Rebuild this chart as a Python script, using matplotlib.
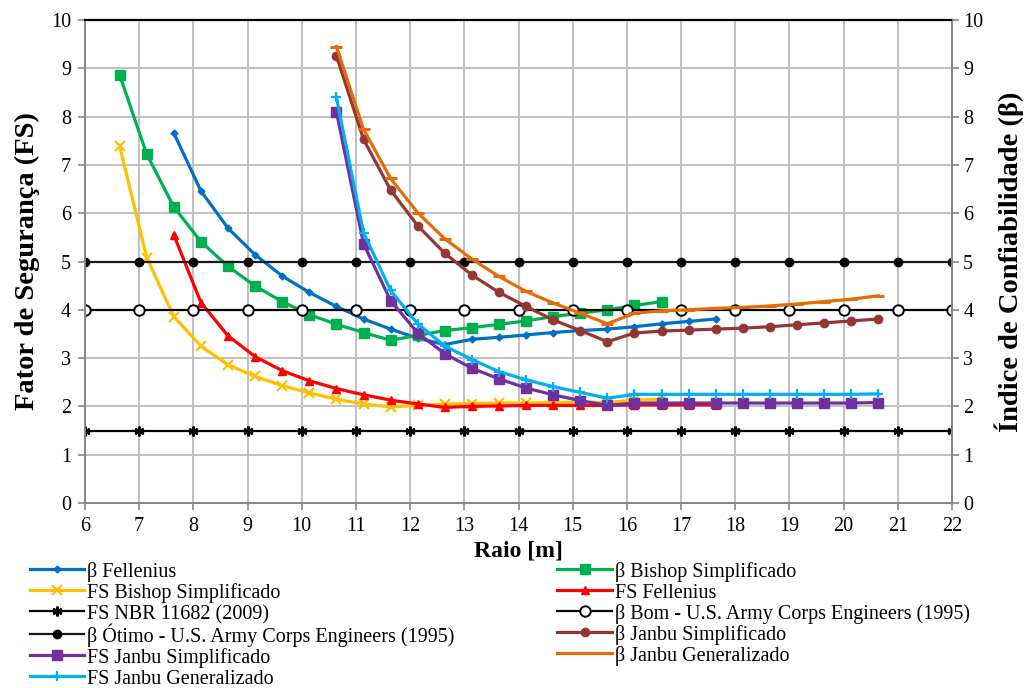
import numpy as np
import matplotlib
matplotlib.use("Agg")
import matplotlib.pyplot as plt

plt.rcParams['font.family'] = ['Liberation Serif', 'DejaVu Serif']
plt.rcParams['mathtext.fontset'] = 'stix'

# Radius of the trial slip circles [m]
raio = 6.64 + 0.5 * np.arange(29)   # 6.64 ... 20.64

# beta / FS series (first point index into raio, values)
beta_fellenius = [7.66, 6.46, 5.69, 5.14, 4.70, 4.36, 4.07, 3.81, 3.60, 3.41, 3.28,
                  3.39, 3.43, 3.48, 3.53, 3.57, 3.60, 3.65, 3.71, 3.76, 3.81]
beta_bishop = [8.86, 7.22, 6.13, 5.41, 4.90, 4.49, 4.17, 3.90, 3.70, 3.53, 3.37,
               3.47, 3.57, 3.63, 3.70, 3.77, 3.86, 3.93, 4.00, 4.09, 4.17]
fs_bishop = [7.39, 5.08, 3.86, 3.25, 2.86, 2.62, 2.43, 2.28, 2.15, 2.05, 1.99,
             2.02, 2.05, 2.06, 2.07, 2.07, 2.08, 2.09, 2.08, 2.13, 2.15]
fs_fellenius = [5.55, 4.15, 3.46, 3.03, 2.74, 2.53, 2.37, 2.24, 2.13, 2.05, 1.98,
                2.00, 2.01, 2.02, 2.02, 2.02, 2.02, 2.03, 2.03, 2.03, 2.03]
beta_janbu_simp = [9.26, 7.53, 6.48, 5.74, 5.17, 4.72, 4.36, 4.07, 3.79, 3.57, 3.34,
                   3.52, 3.56, 3.58, 3.60, 3.62, 3.65, 3.69, 3.73, 3.77, 3.81]
fs_janbu_simp = [8.10, 5.37, 4.19, 3.52, 3.09, 2.79, 2.57, 2.38, 2.24, 2.12, 2.02,
                 2.07, 2.07, 2.07, 2.07, 2.07, 2.07, 2.07, 2.07, 2.07, 2.08]
beta_janbu_gen = [9.45, 7.74, 6.72, 6.01, 5.47, 5.05, 4.69, 4.38, 4.14, 3.93, 3.71,
                  3.93, 3.98, 4.00, 4.03, 4.05, 4.08, 4.12, 4.17, 4.22, 4.29]
fs_janbu_gen = [8.40, 5.60, 4.40, 3.71, 3.25, 2.97, 2.72, 2.55, 2.41, 2.29, 2.17,
                2.25, 2.25, 2.25, 2.25, 2.25, 2.25, 2.25, 2.25, 2.25, 2.26]

start_bishop = 0      # 6.64 m
start_fellenius = 2   # 7.64 m
start_janbu = 8       # 10.64 m

# Reference limits
x_ref = np.arange(6, 23)
fs_nbr = 1.5
beta_bom = 4.0
beta_otimo = 5.0

blue, green, yellow, red = '#0070C0', '#00B050', '#FFC000', '#FF0000'
brown, purple, orange, cyan = '#943634', '#7030A0', '#E36C09', '#00B0F0'


def xs(start, vals):
    return raio[start:start + len(vals)]


fig = plt.figure(figsize=(10.30, 6.88), dpi=100)
ax = fig.add_axes([0.0825, 0.2689, 0.8418, 0.7020])
lw = 2.3

h = {}
h['bf'], = ax.plot(xs(start_fellenius, beta_fellenius), beta_fellenius, color=blue, lw=lw,
                   marker='D', ms=3.5, label='β Fellenius')
h['bb'], = ax.plot(xs(start_bishop, beta_bishop), beta_bishop, color=green, lw=lw,
                   marker='s', ms=6.5, label='β Bishop Simplificado')
h['fb'], = ax.plot(xs(start_bishop, fs_bishop), fs_bishop, color=yellow, lw=lw,
                   marker='x', ms=6.5, mew=1.6, label='FS Bishop Simplificado')
h['ff'], = ax.plot(xs(start_fellenius, fs_fellenius), fs_fellenius, color=red, lw=lw,
                   marker='^', ms=6, label='FS Fellenius')
h['nbr'], = ax.plot(x_ref, np.full(len(x_ref), fs_nbr), color='black', lw=1.6,
                    marker=(6, 2, 0), ms=7, mew=1.8, label='FS NBR 11682 (2009)')
h['bom'], = ax.plot(x_ref, np.full(len(x_ref), beta_bom), color='black', lw=1.6,
                    marker='o', ms=7.5, mfc='white', mec='black', mew=1.4,
                    label='β Bom - U.S. Army Corps Engineers (1995)')
h['otimo'], = ax.plot(x_ref, np.full(len(x_ref), beta_otimo), color='#1a1a1a', lw=1.6,
                      marker='o', ms=6, mfc='black', mec='black',
                      label='β Ótimo - U.S. Army Corps Engineers (1995)')
h['bjs'], = ax.plot(xs(start_janbu, beta_janbu_simp), beta_janbu_simp, color=brown, lw=lw,
                    marker='o', ms=6, label='β Janbu Simplificado')
h['fjs'], = ax.plot(xs(start_janbu, fs_janbu_simp), fs_janbu_simp, color=purple, lw=lw,
                    marker='s', ms=6.5, label='FS Janbu Simplificado')
h['bjg'], = ax.plot(xs(start_janbu, beta_janbu_gen), beta_janbu_gen, color=orange, lw=lw,
                    marker='_', ms=8, mew=2.2, label='β Janbu Generalizado')
h['fjg'], = ax.plot(xs(start_janbu, fs_janbu_gen), fs_janbu_gen, color=cyan, lw=lw,
                    marker='+', ms=7, mew=1.6, label='FS Janbu Generalizado')

ax.set_xlim(6, 22)
ax.set_ylim(0, 10)
ax.set_xticks(np.arange(6, 23, 1))
ax.set_yticks(np.arange(0, 11, 1))
ax.grid(True, color='#c0c0c0', lw=1.4)
ax.set_axisbelow(True)

grey = '#868686'
for side in ('left', 'right', 'bottom'):
    ax.spines[side].set_color(grey)
    ax.spines[side].set_linewidth(1.4)
ax.spines['top'].set_color('black')
ax.spines['top'].set_linewidth(1.6)
ax.tick_params(axis='both', direction='out', length=5, width=1.2, color=grey,
               labelsize=14.5, pad=5)

ax2 = ax.twinx()
ax2.set_ylim(0, 10)
ax2.set_yticks(np.arange(0, 11, 1))
ax2.tick_params(axis='y', direction='out', length=5, width=1.2, color=grey,
                labelsize=14.5, pad=3)
for s in ax2.spines.values():
    s.set_visible(False)

ax.set_xlabel('Raio [m]', fontsize=17, fontweight='bold', labelpad=3)
ax.set_ylabel('Fator de Segurança (FS)', fontsize=20.5, fontweight='bold', labelpad=8)
ax2.set_ylabel('Índice de Confiabilidade (β)', fontsize=20.5, fontweight='bold',
               rotation=90, labelpad=8)

order = ['bf', 'fb', 'nbr', 'otimo', 'fjs', 'fjg', 'bb', 'ff', 'bom', 'bjs', 'bjg']
fig.legend([h[k] for k in order], [h[k].get_label() for k in order],
           ncol=2, loc='upper left', bbox_to_anchor=(0.029, 0.185),
           frameon=False, fontsize=14.5, handlelength=2.7, handletextpad=0.15,
           handleheight=1.1, labelspacing=-0.03, columnspacing=5.1,
           borderaxespad=0, borderpad=0)

fig.savefig('out.png', dpi=100)
